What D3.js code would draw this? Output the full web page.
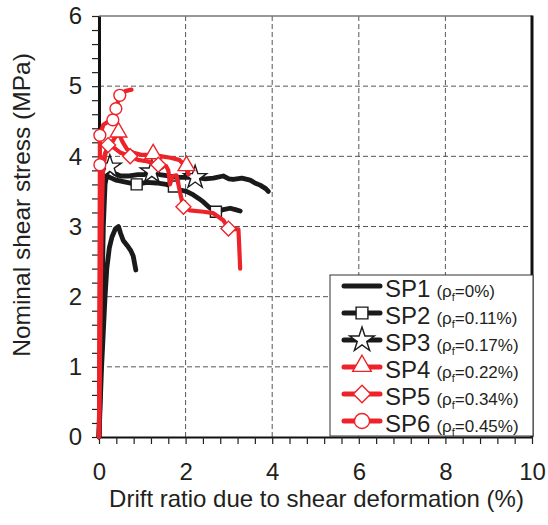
<!DOCTYPE html>
<html>
<head>
<meta charset="utf-8">
<script src="https://cdn.jsdelivr.net/npm/d3@7"></script>
<style>
  body { margin: 0; background: #fff; }
  text { font-family: "Liberation Sans", Arial, sans-serif; fill: #231f20; }
</style>
</head>
<body>
<svg id="chart" width="548" height="525"></svg>
<script>
// Drift ratio (%) vs nominal shear stress (MPa) for each specimen
const sp1 = [[0,0],[0.03,0.5],[0.06,1.0],[0.1,1.5],[0.14,2.0],[0.18,2.4],[0.24,2.7],[0.3,2.85],[0.38,2.97],[0.45,3.0],[0.5,2.9],[0.56,2.8],[0.65,2.73],[0.73,2.66],[0.79,2.58],[0.82,2.48],[0.85,2.38]];
const sp2 = [[0,0],[0.03,1.0],[0.05,2.0],[0.07,3.0],[0.1,3.6],[0.15,3.72],[0.25,3.7],[0.4,3.66],[0.56,3.64],[0.87,3.6],[1.1,3.63],[1.33,3.62],[1.55,3.6],[1.73,3.57],[1.87,3.52],[2.02,3.5],[2.18,3.45],[2.3,3.4],[2.41,3.35],[2.55,3.27],[2.7,3.21],[2.87,3.24],[3.03,3.26],[3.15,3.24],[3.26,3.22]];
const sp3 = [[0,0],[0.04,1.0],[0.07,2.0],[0.1,3.0],[0.14,3.6],[0.2,3.8],[0.25,3.85],[0.35,3.76],[0.5,3.72],[0.7,3.72],[0.9,3.74],[1.05,3.74],[1.22,3.78],[1.4,3.74],[1.6,3.72],[1.8,3.7],[2.0,3.7],[2.22,3.7],[2.45,3.68],[2.64,3.69],[2.87,3.72],[3.0,3.68],[3.1,3.67],[3.3,3.69],[3.49,3.66],[3.6,3.62],[3.72,3.59],[3.85,3.54],[3.91,3.5]];
const sp4 = [[0,0],[0.02,1.0],[0.04,2.0],[0.06,3.0],[0.09,3.8],[0.15,4.05],[0.25,4.15],[0.35,4.25],[0.45,4.33],[0.55,4.2],[0.65,4.1],[0.8,4.05],[1.0,4.02],[1.25,4.02],[1.45,4.0],[1.65,3.98],[1.85,3.95],[2.02,3.85],[2.07,3.74]];
const sp5 = [[0,0],[0.01,1.0],[0.02,2.0],[0.04,3.0],[0.07,3.7],[0.12,4.0],[0.21,4.16],[0.35,4.12],[0.5,4.05],[0.72,4.0],[0.9,3.95],[1.1,3.93],[1.37,3.88],[1.55,3.86],[1.6,3.8],[1.64,3.6],[1.7,3.72],[1.79,3.73],[1.85,3.55],[1.91,3.38],[1.95,3.28],[2.1,3.23],[2.41,3.21],[2.64,3.19],[2.87,3.09],[2.99,2.97],[3.22,2.96],[3.24,2.7],[3.26,2.4]];
const sp6 = [[0,0],[0.005,1.0],[0.01,2.0],[0.015,3.0],[0.02,3.88],[0.02,4.3],[0.1,4.45],[0.2,4.49],[0.32,4.52],[0.39,4.68],[0.48,4.87],[0.6,4.93],[0.75,4.95]];

// Marker positions along each curve
const sp2Marks = [[0.87,3.6],[1.73,3.57],[2.7,3.21]];
const sp3Marks = [[0.25,3.85],[1.22,3.78],[2.22,3.7]];
const sp4Marks = [[0.45,4.33],[1.25,4.02],[2.02,3.85]];
const sp5Marks = [[0.21,4.16],[0.72,4.0],[1.37,3.88],[1.95,3.28],[2.99,2.97]];
const sp6Marks = [[0.02,3.88],[0.02,4.3],[0.32,4.52],[0.39,4.68],[0.48,4.87]];

// Specimen names and fibre ratios
const names = ["SP1","SP2","SP3","SP4","SP5","SP6"];
const ratios = ["0%","0.11%","0.17%","0.22%","0.34%","0.45%"];

// Axis ticks
const xLabels = [0,2,4,6,8,10];
const yLabels = [0,1,2,3,4,5,6];

const BLACK = "#1a1a1a", RED = "#ee2229";
const series = [
  { name: names[0], ratio: ratios[0], data: sp1, marks: [],       color: BLACK, marker: null },
  { name: names[1], ratio: ratios[1], data: sp2, marks: sp2Marks, color: BLACK, marker: "square" },
  { name: names[2], ratio: ratios[2], data: sp3, marks: sp3Marks, color: BLACK, marker: "star" },
  { name: names[3], ratio: ratios[3], data: sp4, marks: sp4Marks, color: RED,   marker: "triangle" },
  { name: names[4], ratio: ratios[4], data: sp5, marks: sp5Marks, color: RED,   marker: "diamond" },
  { name: names[5], ratio: ratios[5], data: sp6, marks: sp6Marks, color: RED,   marker: "circle" }
];

const svg = d3.select("#chart");
const L = 99, R = 532, T = 16, B = 437;
const x = d3.scaleLinear().domain([0, 10]).range([L, R]);
const y = d3.scaleLinear().domain([0, 6]).range([B, T]);

// dashed grid
const grid = svg.append("g").attr("stroke", "#555").attr("stroke-width", 1).attr("stroke-dasharray", "5,3");
xLabels.filter(v => v > 0 && v < 10).forEach(v => {
  grid.append("line").attr("x1", x(v)).attr("x2", x(v)).attr("y1", T).attr("y2", B);
});
yLabels.filter(v => v > 0 && v < 6).forEach(v => {
  grid.append("line").attr("x1", L).attr("x2", R).attr("y1", y(v)).attr("y2", y(v));
});

// frame: light top edge, heavy right edge
svg.append("line").attr("x1", L).attr("x2", R).attr("y1", T).attr("y2", T).attr("stroke", "#777").attr("stroke-width", 1.5);
svg.append("line").attr("x1", R).attr("x2", R).attr("y1", T - 0.5).attr("y2", B).attr("stroke", "#111").attr("stroke-width", 3);

// axes
const xTicks = d3.range(0, 26).map(i => i * 0.4);
const yTicks = d3.range(0, 31).map(i => i / 5);
const xAxis = d3.axisBottom(x).tickValues(xTicks).tickSize(7).tickPadding(19).tickSizeOuter(0)
  .tickFormat((d, i) => i % 5 === 0 ? d3.format("d")(Math.round(d)) : "");
const yAxis = d3.axisLeft(y).tickValues(yTicks).tickSize(7).tickPadding(10).tickSizeOuter(0)
  .tickFormat((d, i) => i % 5 === 0 ? d3.format("d")(Math.round(d)) : "");

const gx = svg.append("g").attr("transform", `translate(0,${B})`).call(xAxis);
const gy = svg.append("g").attr("transform", `translate(${L},0)`).call(yAxis);
[gx, gy].forEach(g => {
  g.selectAll(".tick line").attr("stroke", "#222").attr("stroke-width", 1.2);
  g.selectAll(".tick text").attr("font-size", 24).attr("font-family", "Liberation Sans, Arial, sans-serif").attr("fill", "#231f20");
  g.select(".domain").attr("stroke", "#111");
});
gx.select(".domain").attr("stroke-width", 2.2);
gy.select(".domain").attr("stroke-width", 3);

// axis titles
svg.append("text").attr("x", (L + R) / 2 + 1).attr("y", 507).attr("text-anchor", "middle")
  .attr("font-size", 24).text("Drift ratio due to shear deformation (%)");
svg.append("text").attr("transform", "translate(30,205) rotate(-90)").attr("text-anchor", "middle")
  .attr("font-size", 24.5).text("Nominal shear stress (MPa)");

// marker shapes
function markerPath(type, big) {
  switch (type) {
    case "square":   return d3.symbol(d3.symbolSquare, big ? 140 : 121)();
    case "star":     return d3.symbol(d3.symbolStar, big ? 190 : 165)();
    case "triangle": return d3.symbol(d3.symbolTriangle, big ? 150 : 120)();
    case "diamond":  return d3.symbol(d3.symbolSquare, big ? 150 : 112)();
    case "circle":   return d3.symbol(d3.symbolCircle, big ? 180 : 110)();
  }
  return null;
}
function markerTransform(type, px, py) {
  return `translate(${px},${py})` + (type === "diamond" ? " rotate(45)" : "") + (type === "triangle" ? " translate(0,-1)" : "");
}

const line = d3.line().x(d => x(d[0])).y(d => y(d[1]));
const plot = svg.append("g");
series.forEach(s => {
  const g = plot.append("g");
  g.append("path").attr("d", line(s.data)).attr("fill", "none")
    .attr("stroke", s.color).attr("stroke-width", s.color === BLACK ? 4.8 : 4.2)
    .attr("stroke-linejoin", "round").attr("stroke-linecap", "round");
  if (s.marker) {
    g.selectAll("path.mk").data(s.marks).join("path").attr("class", "mk")
      .attr("d", markerPath(s.marker, false))
      .attr("transform", d => markerTransform(s.marker, x(d[0]), y(d[1])))
      .attr("fill", "#fff").attr("stroke", s.color).attr("stroke-width", 1.4);
  }
});

// legend
const lg = svg.append("g");
lg.append("rect").attr("x", 330).attr("y", 275).attr("width", 203).attr("height", 161)
  .attr("fill", "#fff").attr("stroke", "#333").attr("stroke-width", 1);
series.forEach((s, i) => {
  const cy = 286 + i * 27;
  lg.append("line").attr("x1", 344).attr("x2", 380).attr("y1", cy).attr("y2", cy)
    .attr("stroke", s.color).attr("stroke-width", 5).attr("stroke-linecap", "round");
  if (s.marker) {
    lg.append("path").attr("d", markerPath(s.marker, true))
      .attr("transform", markerTransform(s.marker, 362, cy))
      .attr("fill", "#fff").attr("stroke", s.color).attr("stroke-width", 1.4);
  }
  const t = lg.append("text").attr("x", 385).attr("y", cy + 11);
  t.append("tspan").attr("font-size", 24).text(s.name);
  t.append("tspan").attr("font-size", 17).attr("dx", 6).text("(ρ");
  t.append("tspan").attr("font-size", 11).attr("dy", 4).text("f");
  t.append("tspan").attr("font-size", 17).attr("dy", -4).text("=" + s.ratio + ")");
});
</script>
</body>
</html>
